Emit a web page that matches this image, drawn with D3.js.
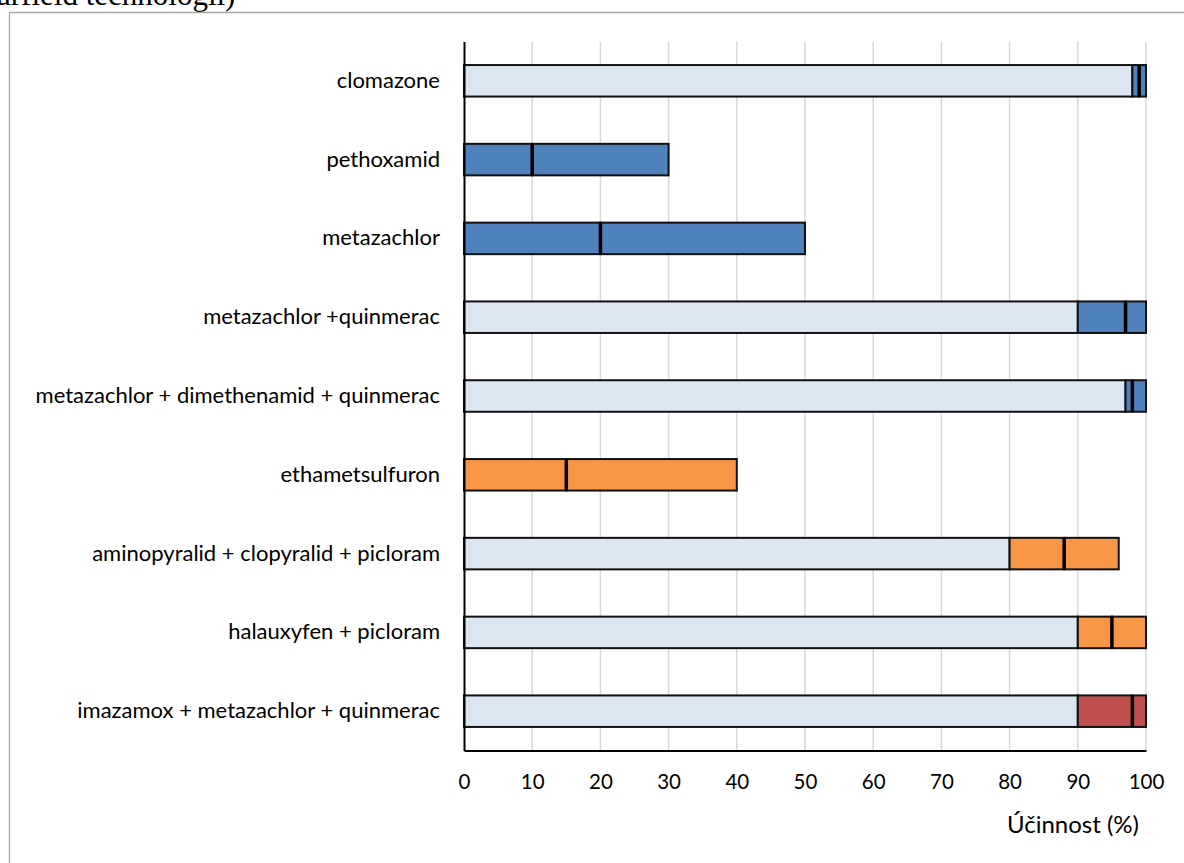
<!DOCTYPE html>
<html><head><meta charset="utf-8">
<script src="https://cdn.jsdelivr.net/npm/d3@7/dist/d3.min.js"></script>
<style>html,body{margin:0;padding:0;background:#fff;overflow:hidden}</style>
</head><body><svg id="c" width="1184" height="863"></svg>
<script>
const categories = ["clomazone","pethoxamid","metazachlor","metazachlor +quinmerac","metazachlor + dimethenamid + quinmerac","ethametsulfuron","aminopyralid + clopyralid + picloram","halauxyfen + picloram","imazamox + metazachlor + quinmerac"];
const minVals    = [98, 0, 0, 90, 97, 0, 80, 90, 90];
const medianVals = [99, 10, 20, 97, 98, 15, 88, 95, 98];
const maxVals    = [100, 30, 50, 100, 100, 40, 96, 100, 100];
const groups     = ["pre","pre","pre","pre","pre","post","post","post","cl"];
const xTicks     = [0,10,20,30,40,50,60,70,80,90,100];
const axisTitle  = "Účinnost (%)";
const topText    = "arfield technologii)";

const FONT = "Lato, Open Sans, sans-serif";
const svg = d3.select("#c");
const plot = {left:464, right:1146, top:41.4, bottom:750.6};
const x = d3.scaleLinear().domain([0,100]).range([plot.left, plot.right]);
const y = d3.scaleBand().domain(categories).range([plot.top, plot.bottom]).paddingInner(0.6).paddingOuter(0.3);
const color = d3.scaleOrdinal().domain(["pre","post","cl"]).range(["#4F81BD","#F79646","#C0504D"]);
const baseFill = "#DCE6F2";

// top cut text
svg.append("text").attr("x",-3).attr("y",5).attr("font-family","Liberation Serif, Times New Roman, serif")
  .attr("font-size",31).attr("fill","#000").text(topText);
// chart frame
svg.append("path").attr("d","M9.5,1000 L9.5,12.5 L1200,12.5").attr("fill","none").attr("stroke","#a6a6a6").attr("stroke-width",1.3);

// gridlines
svg.append("g").selectAll("line").data(xTicks.filter(d=>d>0)).join("line")
  .attr("x1",d=>x(d)).attr("x2",d=>x(d)).attr("y1",plot.top).attr("y2",plot.bottom)
  .attr("stroke","#d9d9d9").attr("stroke-width",1.5);

// bars
const rows = categories.map((c,i)=>({c,min:minVals[i],med:medianVals[i],max:maxVals[i],g:groups[i]}));
const bh = y.bandwidth();
const gBars = svg.append("g");
const SW = 2;
rows.forEach(r=>{
  const yy = y(r.c);
  if (r.min>0) gBars.append("rect").attr("x",x(0)).attr("y",yy).attr("width",x(r.min)-x(0)).attr("height",bh)
    .attr("fill",baseFill).attr("stroke","#111").attr("stroke-width",SW);
  gBars.append("rect").attr("x",x(r.min)).attr("y",yy).attr("width",x(r.med)-x(r.min)).attr("height",bh)
    .attr("fill",color(r.g)).attr("stroke","#111").attr("stroke-width",SW);
  gBars.append("rect").attr("x",x(r.med)).attr("y",yy).attr("width",x(r.max)-x(r.med)).attr("height",bh)
    .attr("fill",color(r.g)).attr("stroke","#111").attr("stroke-width",SW);
  gBars.append("line").attr("x1",x(r.med)).attr("x2",x(r.med)).attr("y1",yy).attr("y2",yy+bh)
    .attr("stroke","#000").attr("stroke-width",3.5);
});

// axes
const xAxis = svg.append("g").attr("transform",`translate(0,${plot.bottom})`)
  .call(d3.axisBottom(x).tickValues(xTicks).tickSize(0).tickPadding(24));
xAxis.select(".domain").attr("stroke","#000").attr("stroke-width",2);
xAxis.selectAll("text").attr("font-family",FONT).attr("font-size",20.5).attr("fill","#000");

const yAxis = svg.append("g").attr("transform",`translate(${plot.left},0)`)
  .call(d3.axisLeft(y).tickSize(0).tickPadding(24));
yAxis.select(".domain").attr("stroke","#000").attr("stroke-width",2);
yAxis.selectAll("text").attr("font-family",FONT).attr("font-size",22).attr("fill","#000");

svg.append("text").attr("x",1139).attr("y",833).attr("text-anchor","end")
  .attr("font-family",FONT).attr("font-size",24).attr("fill","#000").text(axisTitle);
</script></body></html>
